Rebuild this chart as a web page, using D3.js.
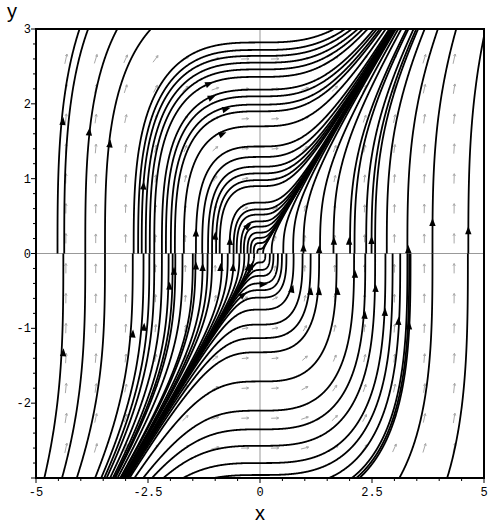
<!DOCTYPE html>
<html>
<head>
<meta charset="utf-8">
<script src="https://cdn.jsdelivr.net/npm/d3@7"></script>
<style>
body { margin: 0; background: #fff; }
</style>
</head>
<body>
<svg id="drawing_region"></svg>
<script>
// x where each streamline piece leaves the x axis (upper pieces go up, lower pieces go down)
var upper_roots = [-4.52, -4.37, -3.90, -3.46, -2.82, -2.72, -2.64, -2.55, -2.46, -2.36, -2.19, -2.10,
    -1.99, -1.90, -1.70, -1.43, -1.29, -1.16, -1.07, -0.98, -0.90, -0.68, -0.59, -0.52, -0.43,
    -0.36, -0.28, -0.21, -0.14, -0.06,
    0.07, 0.26, 0.52, 0.74, 0.97, 1.34, 1.64, 2.01, 2.11, 2.37, 2.49, 2.57, 2.83, 3.29, 3.85, 4.65];
var lower_roots = [-4.39, -3.90, -3.46, -2.84, -2.60, -2.47, -2.36, -2.19, -2.04, -1.95, -1.89, -1.73,
    -1.50, -1.44, -1.28, -1.17, -1.07, -0.85, -0.72, -0.59, -0.46, -0.35, -0.25, -0.13,
    0.12, 0.22, 0.30, 0.40, 0.49, 0.59, 0.75, 0.95, 1.13, 1.32, 1.71, 2.10, 2.35, 2.57, 2.80,
    2.96, 3.13, 3.29, 3.33, 3.36, 3.85, 4.64];

// arrowheads on the streamlines
var arrow_x = [-4.40, -3.81, -3.35, -2.60, -1.13, -1.07, -0.75, -0.83, -1.43, -1.00, -0.67, -0.26,
    0.97, 1.32, 1.65, 1.99, 2.49, 3.31, 3.85, 4.65,
    -4.39, -2.84, -2.59, -2.02, -1.92, -1.43, -1.28, -0.88, -0.60, -0.25, -0.19, -0.37, 0.08,
    0.72, 1.13, 1.32, 1.73, 2.12, 2.34, 2.58, 2.79, 3.09, 3.33];
var arrow_y = [1.77, 1.63, 1.47, 0.91, 2.27, 2.09, 1.93, 1.60, 0.28, 0.24, 0.17, 0.37,
    0.08, 0.06, 0.17, 0.17, 0.18, 0.06, 0.42, 0.31,
    -1.32, -1.07, -0.98, -0.43, -0.23, -0.16, -0.18, -0.18, -0.18, -0.18, -0.16, -0.55, -0.41,
    -0.47, -0.50, -0.50, -0.50, -0.27, -0.82, -0.46, -0.78, -0.90, -0.96];

// grey field arrows
var grid_x = [-4.333, -3.667, -3, -2.333, -1.667, -1, -0.333, 0.333, 1, 1.667, 2.333, 3, 3.667, 4.333];
var grid_y = [-2.6, -2.2, -1.8, -1.4, -1, -0.6, -0.2, 0.2, 0.6, 1, 1.4, 1.8, 2.2, 2.6];

var x_ticks = [-5, -2.5, 0, 2.5, 5];
var x_labels = ['-5', '-2.5', '0', '2.5', '5'];
var y_ticks = [-2, -1, 0, 1, 2, 3];
var y_labels = ['-2', '-1', '0', '1', '2', '3'];

// dx/dt = y^2, dy/dt = x^2
function field(x, y) {
    return [y * y, x * x];
}

class StreamPlot {

    constructor( config ) {
        this.config = {
            parent: config.parent,
            width: config.width || 498,
            height: config.height || 526,
            margin: config.margin || {top:29, right:14, bottom:48, left:36}
        }
        this.init();
    }

    init() {
        let self = this;

        self.svg = d3.select( self.config.parent )
            .attr('width', self.config.width)
            .attr('height', self.config.height);

        self.chart = self.svg.append('g')
            .attr('transform', `translate(${self.config.margin.left}, ${self.config.margin.top})`);

        self.inner_width = self.config.width - self.config.margin.left - self.config.margin.right;
        self.inner_height = self.config.height - self.config.margin.top - self.config.margin.bottom;

        self.svg.append('clipPath').attr('id', 'plot_clip')
            .append('rect')
            .attr('width', self.inner_width)
            .attr('height', self.inner_height);
    }

    update() {
        let self = this;

        self.xscale = d3.scaleLinear()
            .domain([-5, 5])
            .range([0, self.inner_width]);

        self.yscale = d3.scaleLinear()
            .domain([-3, 3])
            .range([self.inner_height, 0]);

        self.render();
    }

    // direction of the field in pixel space, unit length
    dir_at( px, py ) {
        let self = this;
        let f = field(self.xscale.invert(px), self.yscale.invert(py));
        let vx = f[0] * (self.inner_width / 10);
        let vy = -f[1] * (self.inner_height / 6);
        let n = Math.hypot(vx, vy) || 1e-9;
        return [vx / n, vy / n];
    }

    trace( x0, y0, sign ) {
        let self = this;
        let h = 0.5;
        let v = (x, y) => { let d = self.dir_at(x, y); return [sign * d[0], sign * d[1]]; };
        let p = [self.xscale(x0), self.yscale(y0)];
        let pts = [p];
        for (let i = 0; i < 5000; i++) {
            let k1 = v(p[0], p[1]);
            let k2 = v(p[0] + h / 2 * k1[0], p[1] + h / 2 * k1[1]);
            let k3 = v(p[0] + h / 2 * k2[0], p[1] + h / 2 * k2[1]);
            let k4 = v(p[0] + h * k3[0], p[1] + h * k3[1]);
            p = [p[0] + h / 6 * (k1[0] + 2 * k2[0] + 2 * k3[0] + k4[0]),
                 p[1] + h / 6 * (k1[1] + 2 * k2[1] + 2 * k3[1] + k4[1])];
            pts.push(p);
            if (p[0] < -3 || p[0] > self.inner_width + 3 || p[1] < -3 || p[1] > self.inner_height + 3) break;
        }
        return pts;
    }

    render() {
        let self = this;
        let W = self.inner_width, H = self.inner_height;

        let plot = self.chart.append('g').attr('clip-path', 'url(#plot_clip)');

        // axes through the origin
        plot.append('line')
            .attr('x1', self.xscale(0)).attr('x2', self.xscale(0))
            .attr('y1', 0).attr('y2', H)
            .attr('stroke', '#999').attr('stroke-width', 1);
        plot.append('line')
            .attr('x1', 0).attr('x2', W)
            .attr('y1', self.yscale(0)).attr('y2', self.yscale(0))
            .attr('stroke', '#999').attr('stroke-width', 1);

        // grey vector field
        let cells = [];
        grid_x.forEach(gx => grid_y.forEach(gy => cells.push({x: gx, y: gy})));
        let mmax = d3.max(cells, d => Math.hypot(...field(d.x, d.y)));
        plot.append('g').selectAll('path').data(cells).join('path')
            .attr('d', d => {
                let cx = self.xscale(d.x), cy = self.yscale(d.y);
                let u = self.dir_at(cx, cy);
                let L = 5 + 5 * Math.sqrt(Math.hypot(...field(d.x, d.y)) / mmax);
                let tx = cx + u[0] * L / 2, ty = cy + u[1] * L / 2;
                let bx = cx - u[0] * L / 2, by = cy - u[1] * L / 2;
                let a = Math.atan2(u[1], u[0]);
                let h1 = [tx - 2.5 * Math.cos(a - 0.5), ty - 2.5 * Math.sin(a - 0.5)];
                let h2 = [tx - 2.5 * Math.cos(a + 0.5), ty - 2.5 * Math.sin(a + 0.5)];
                return `M${bx},${by}L${tx},${ty}M${h1[0]},${h1[1]}L${tx},${ty}L${h2[0]},${h2[1]}`;
            })
            .attr('fill', 'none')
            .attr('stroke', '#a8a8a8')
            .attr('stroke-width', 1);

        // streamlines
        let pieces = upper_roots.map(a => self.trace(a, 0, 1))
            .concat(lower_roots.map(a => self.trace(a, 0, -1)));
        plot.append('g').selectAll('path').data(pieces).join('path')
            .attr('d', d3.line())
            .attr('fill', 'none')
            .attr('stroke', '#000')
            .attr('stroke-width', 1.8);

        // arrowheads
        plot.append('g').selectAll('path').data(arrow_x).join('path')
            .attr('d', 'M4,0L-4,-3.2L-4,3.2Z')
            .attr('transform', (d, i) => {
                let px = self.xscale(d), py = self.yscale(arrow_y[i]);
                let u = self.dir_at(px, py);
                let a = Math.atan2(u[1], u[0]) * 180 / Math.PI;
                return `translate(${px},${py}) rotate(${a})`;
            })
            .attr('fill', '#000');

        // frame
        self.chart.append('rect')
            .attr('width', W).attr('height', H)
            .attr('fill', 'none')
            .attr('stroke', '#000')
            .attr('stroke-width', 2);

        // ticks
        let ticks = self.chart.append('g').attr('stroke', '#000').attr('stroke-width', 1);
        ticks.selectAll('.xt').data(d3.range(-5, 5.01, 0.5)).join('line')
            .attr('x1', d => self.xscale(d)).attr('x2', d => self.xscale(d))
            .attr('y1', H).attr('y2', d => H + (d % 2.5 === 0 ? 5 : 3));
        ticks.selectAll('.yt').data(d3.range(-3, 3.01, 0.2)).join('line')
            .attr('y1', d => self.yscale(d)).attr('y2', d => self.yscale(d))
            .attr('x1', 0).attr('x2', d => (Math.abs(d - Math.round(d)) < 1e-6 ? -5 : -3));

        let mono = '"Liberation Mono", "DejaVu Sans Mono", monospace';
        self.chart.append('g').selectAll('text').data(x_ticks).join('text')
            .attr('x', d => self.xscale(d))
            .attr('y', H + 18)
            .attr('text-anchor', 'middle')
            .attr('font-family', mono)
            .attr('font-size', 12)
            .text((d, i) => x_labels[i]);

        self.chart.append('g').selectAll('text').data(y_ticks).join('text')
            .attr('x', -5)
            .attr('y', d => self.yscale(d) + 4)
            .attr('text-anchor', 'end')
            .attr('font-family', mono)
            .attr('font-size', 12)
            .text((d, i) => y_labels[i]);

        // axis names
        self.svg.append('text')
            .attr('x', 260).attr('y', 520)
            .attr('text-anchor', 'middle')
            .attr('font-family', '"Liberation Sans", Arial, sans-serif')
            .attr('font-size', 20)
            .text('x');
        self.svg.append('text')
            .attr('x', 12).attr('y', 18)
            .attr('text-anchor', 'middle')
            .attr('font-family', '"Liberation Sans", Arial, sans-serif')
            .attr('font-size', 20)
            .text('y');
    }
}

var stream_plot = new StreamPlot({
    parent: '#drawing_region',
    width: 498,
    height: 526,
    margin: {top:29, right:14, bottom:48, left:36}
});
stream_plot.update();
</script>
</body>
</html>
